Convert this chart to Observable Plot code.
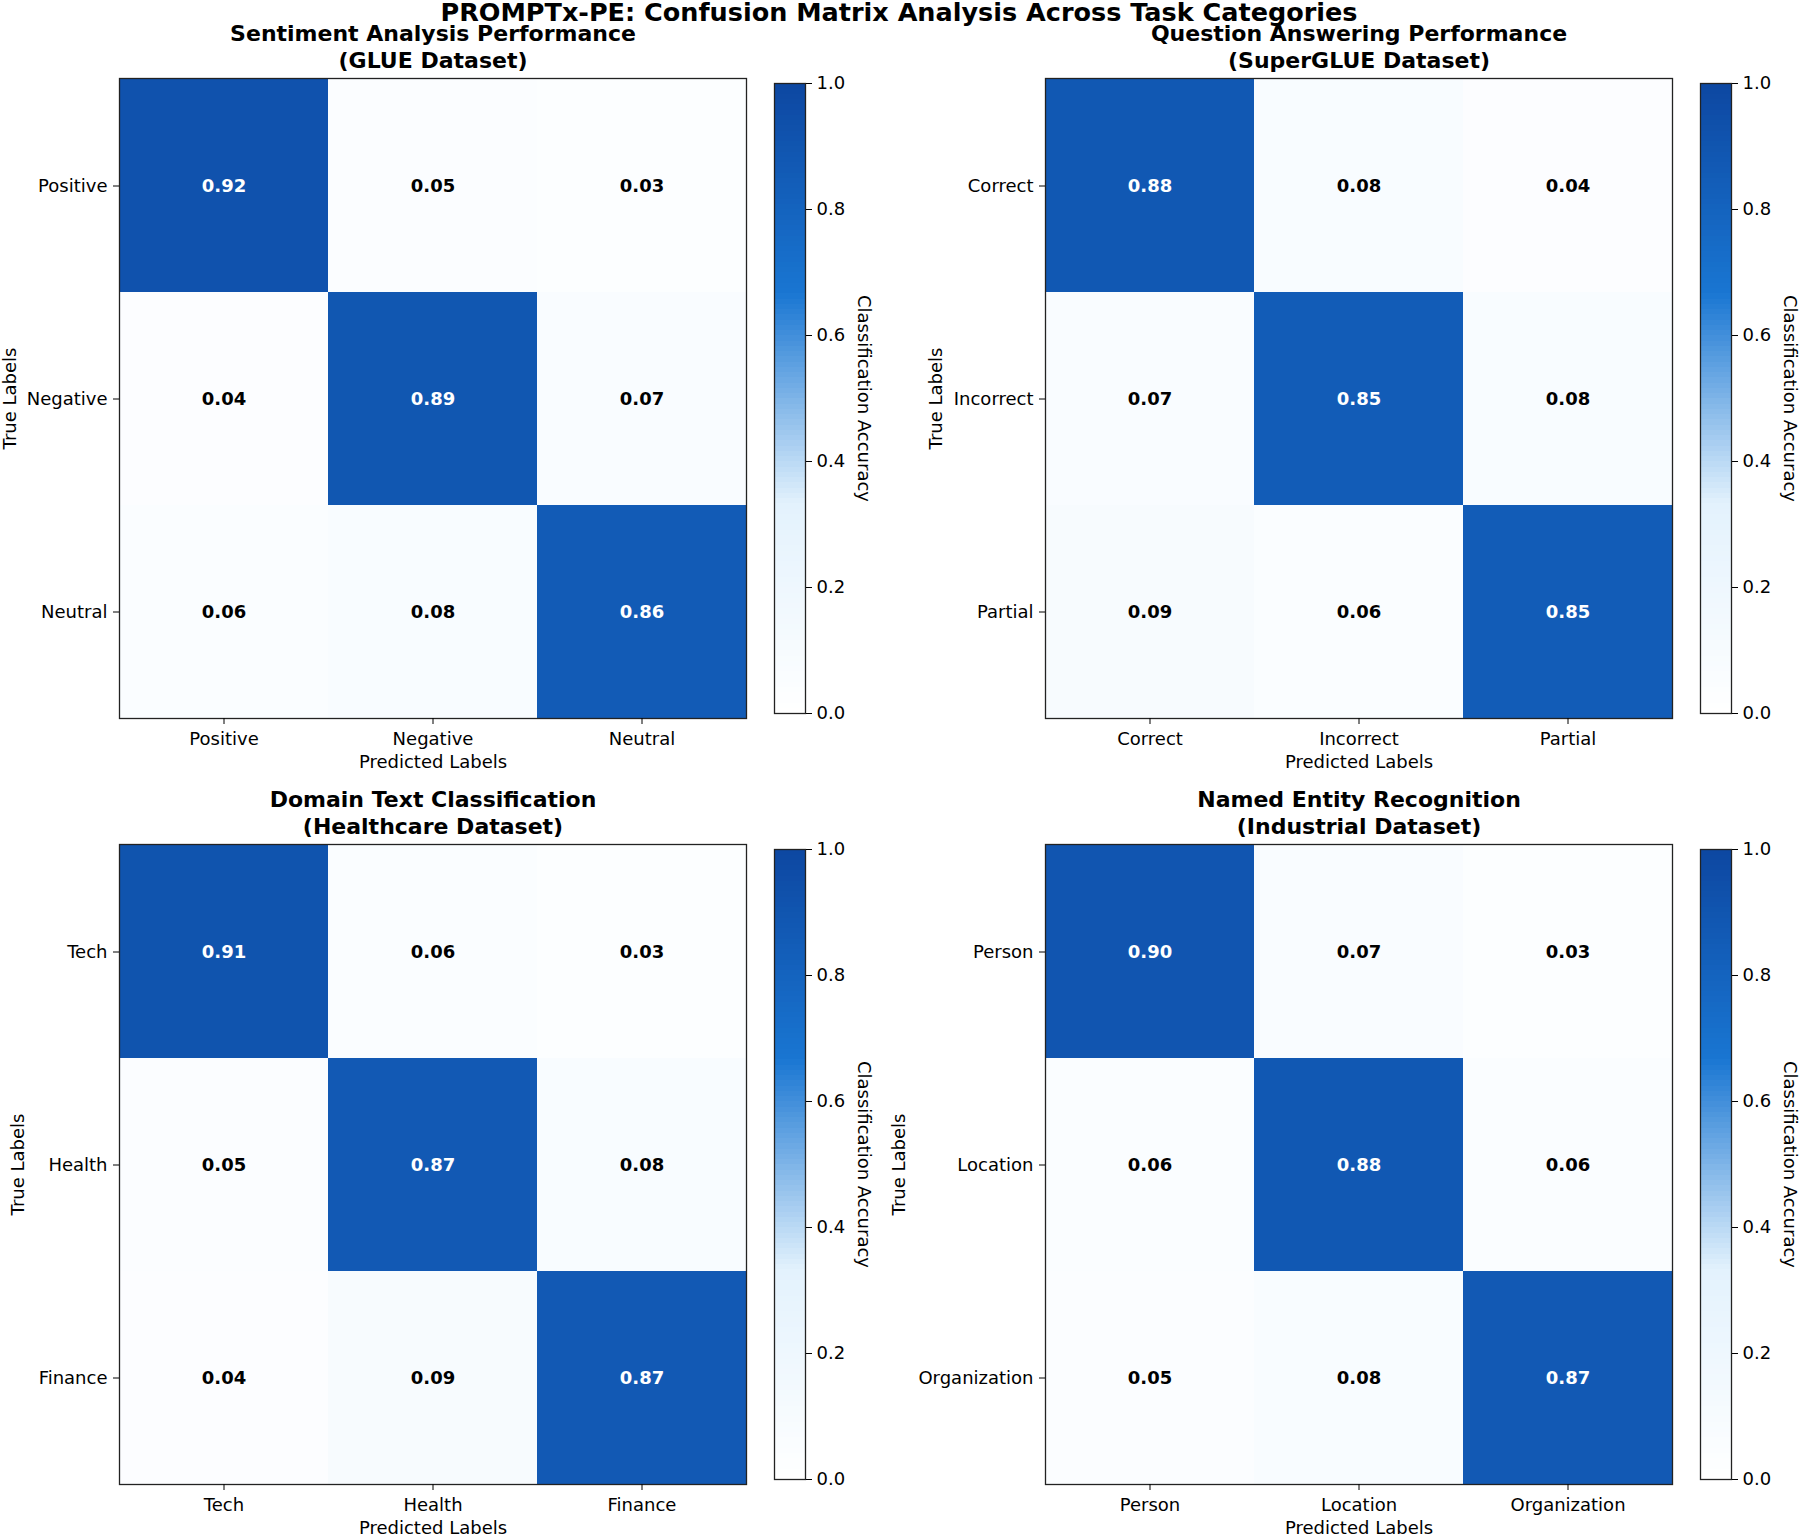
<!DOCTYPE html>
<html>
<head>
<meta charset="utf-8">
<script src="https://cdn.jsdelivr.net/npm/d3@7"></script>
<script src="https://cdn.jsdelivr.net/npm/@observablehq/plot@0.6"></script>
<style>
  body { margin: 0; background: #fff; }
  #wrap { position: relative; width: 1800px; height: 1536px; overflow: hidden; background: #fff; font-family: "DejaVu Sans", sans-serif; }
  #wrap > svg, #wrap > figure { position: absolute; margin: 0; }
  #title { position: absolute; left: 0; width: 1798px; top: 0px; text-align: center; font-weight: bold; font-size: 25.5px; color: #000; line-height: 25px; }
</style>
</head>
<body>
<div id="wrap">
  <div id="title">PROMPTx-PE: Confusion Matrix Analysis Across Task Categories</div>
</div>
<script>
// ---- data ----
const sentimentLabels = ["Positive", "Negative", "Neutral"];
const sentimentMatrix = [[0.92, 0.05, 0.03], [0.04, 0.89, 0.07], [0.06, 0.08, 0.86]];
const qaLabels = ["Correct", "Incorrect", "Partial"];
const qaMatrix = [[0.88, 0.08, 0.04], [0.07, 0.85, 0.08], [0.09, 0.06, 0.85]];
const domainLabels = ["Tech", "Health", "Finance"];
const domainMatrix = [[0.91, 0.06, 0.03], [0.05, 0.87, 0.08], [0.04, 0.09, 0.87]];
const nerLabels = ["Person", "Location", "Organization"];
const nerMatrix = [[0.90, 0.07, 0.03], [0.06, 0.88, 0.06], [0.05, 0.08, 0.87]];
const panelTitles = [
  "Sentiment Analysis Performance\n(GLUE Dataset)",
  "Question Answering Performance\n(SuperGLUE Dataset)",
  "Domain Text Classification\n(Healthcare Dataset)",
  "Named Entity Recognition\n(Industrial Dataset)"
];
const colorbarTicks = [0, 0.2, 0.4, 0.6, 0.8, 1.0];
const colorStops = [0, 1 / 3, 2 / 3, 1];
const colorRange = ["#ffffff", "#e3f2fd", "#1976d2", "#0d47a1"];

const colorScale = { type: "linear", domain: colorStops, range: colorRange, interpolate: "rgb" };
const wrap = document.getElementById("wrap");
const FONT = "DejaVu Sans";

function place(el, left, top) {
  el.style.left = left + "px";
  el.style.top = top + "px";
  wrap.appendChild(el);
}

function heatmap(labels, matrix, title, frameLeft, frameTop, yLabelDx) {
  const data = [];
  matrix.forEach((row, i) => row.forEach((v, j) => data.push({ t: labels[i], p: labels[j], v })));
  const mL = 160, mT = 80, mR = 10, mB = 70, fw = 627, fh = 640;
  const chart = Plot.plot({
    width: mL + fw + mR, height: mT + fh + mB,
    marginLeft: mL, marginTop: mT, marginRight: mR, marginBottom: mB,
    style: { fontFamily: FONT, fontSize: "18px", color: "#000", background: "transparent", overflow: "visible" },
    x: { domain: labels, padding: 0, label: null },
    y: { domain: labels, padding: 0, label: null },
    color: colorScale,
    marks: [
      Plot.cell(data, { x: "p", y: "t", fill: "v", shapeRendering: "crispEdges" }),
      Plot.text(data.filter(d => d.v > 0.5), { x: "p", y: "t", text: d => d.v.toFixed(2), fill: "white", fontWeight: "bold", fontSize: 18 }),
      Plot.text(data.filter(d => d.v <= 0.5), { x: "p", y: "t", text: d => d.v.toFixed(2), fill: "black", fontWeight: "bold", fontSize: 18 }),
      Plot.frame({ stroke: "#222", strokeWidth: 1.3 }),
      Plot.axisX({ tickSize: 6, tickPadding: 8, label: null, fontSize: 18 }),
      Plot.axisY({ tickSize: 6, tickPadding: 6, label: null, fontSize: 18 }),
      Plot.text(["Predicted Labels"], { frameAnchor: "bottom", dy: 49, fontSize: 18 }),
      Plot.text(["True Labels"], { frameAnchor: "left", dx: yLabelDx, rotate: -90, textAnchor: "middle", lineAnchor: "middle", fontSize: 18 }),
      Plot.text([title], { frameAnchor: "top", dy: -56, fontWeight: "bold", fontSize: 22, lineHeight: 1.2 })
    ]
  });
  place(chart, frameLeft - mL, frameTop - mT);
}

function colorbar(frameLeft, frameTop) {
  const mL = 2, mR = 110, mT = 3, mB = 12, fw = 31, fh = 630;
  const chart = Plot.plot({
    width: mL + fw + mR, height: mT + fh + mB,
    marginLeft: mL, marginRight: mR, marginTop: mT, marginBottom: mB,
    style: { fontFamily: FONT, fontSize: "18px", color: "#000", background: "transparent", overflow: "visible" },
    x: { domain: [0, 1], axis: null },
    y: { domain: [0, 1], axis: null },
    color: colorScale,
    marks: [
      Plot.raster({ fill: (x, y) => y, x1: 0, x2: 1, y1: 0, y2: 1, width: 1, height: 120, imageRendering: "pixelated" }),
      Plot.frame({ stroke: "#222", strokeWidth: 1.3 }),
      Plot.axisY({ anchor: "right", ticks: colorbarTicks, tickFormat: d3.format(".1f"), tickSize: 6, tickPadding: 5, label: null, fontSize: 18 }),
      Plot.text(["Classification Accuracy"], { frameAnchor: "right", dx: 58, rotate: 90, textAnchor: "middle", lineAnchor: "middle", fontSize: 18 })
    ]
  });
  place(chart, frameLeft - mL, frameTop - mT);
}

heatmap(sentimentLabels, sentimentMatrix, panelTitles[0], 119, 78, -109);
heatmap(qaLabels, qaMatrix, panelTitles[1], 1045, 78, -109);
heatmap(domainLabels, domainMatrix, panelTitles[2], 119, 844, -101);
heatmap(nerLabels, nerMatrix, panelTitles[3], 1045, 844, -146);

colorbar(774, 83);
colorbar(1700, 83);
colorbar(774, 849);
colorbar(1700, 849);
</script>
</body>
</html>
